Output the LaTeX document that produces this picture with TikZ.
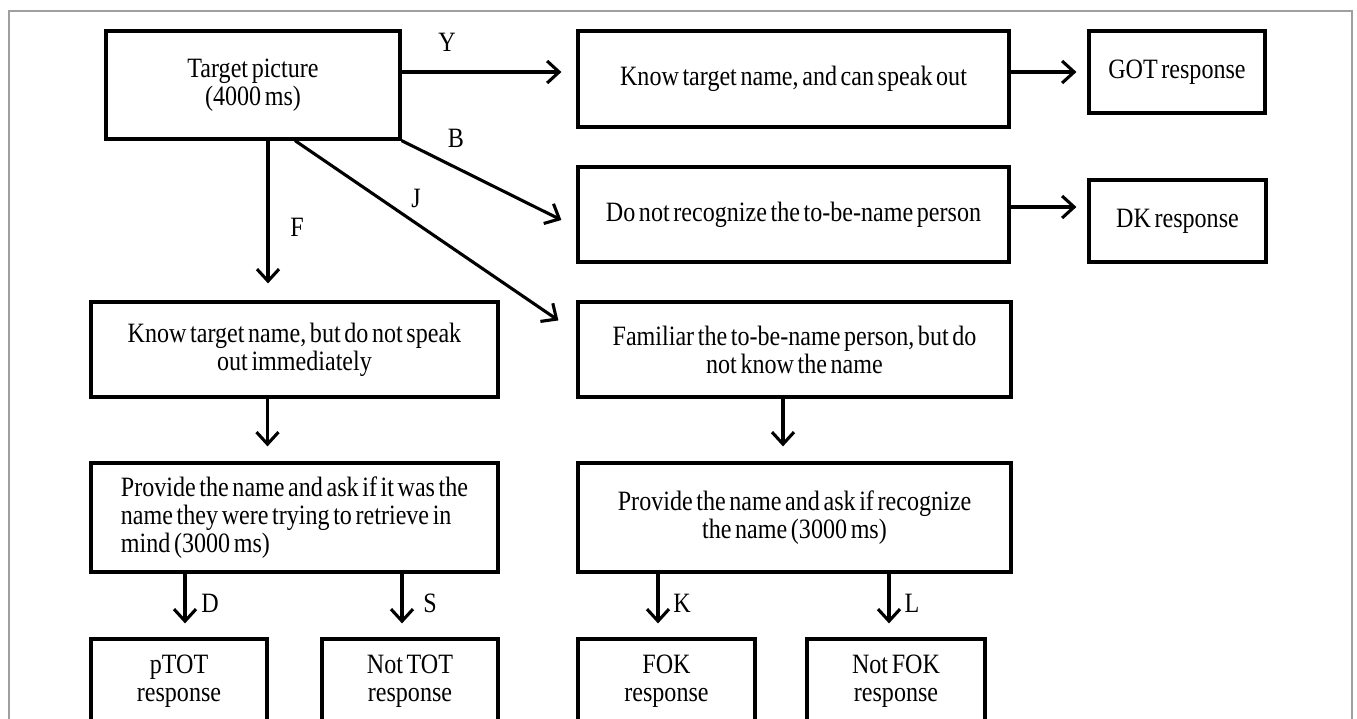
\documentclass[tikz,border=0pt]{standalone}
\usepackage{fontspec}
\setmainfont{Liberation Serif}[FakeStretch=0.86,WordSpace=0.6]
\usetikzlibrary{arrows.meta,calc,positioning}

\begin{document}
\begin{tikzpicture}[x=1pt,y=-1pt,
    box node/.style={draw,line width=3.2pt,inner sep=0pt,align=center,
      font=\fontsize{28}{28}\selectfont},
    arr/.style={line width=3.1pt,-{Straight Barb[length=12pt,width=22pt]}},
    lbl/.style={font=\fontsize{28}{28}\selectfont}]

  \useasboundingbox (0,0) rectangle (1357,718);
  \clip (0,0) rectangle (1357,718);

  % Frame
  \draw[gray!75, line width=1.4pt] (9,11) rectangle (1352,780);

  % Define vertices
  \node[box node, minimum width=294pt, minimum height=108pt] (target) at (253,85) {Target picture\\(4000 ms)};
  \node[box node, minimum width=431pt, minimum height=96pt] (speak) at (793.5,79) {Know target name, and can speak out};
  \node[box node, minimum width=176pt, minimum height=82pt] (got) at (1177,72) {GOT response};
  \node[box node, minimum width=431pt, minimum height=95pt] (norec) at (793.5,214.5) {Do not recognize the to-be-name person};
  \node[box node, minimum width=177pt, minimum height=82pt] (dk) at (1177.5,221) {DK response};
  \node[box node, minimum width=407pt, minimum height=95pt] (knowleft) at (294.5,349.5) {Know target name, but do not speak\\out immediately};
  \node[box node, minimum width=433pt, minimum height=95pt] (familiar) at (794.5,349.5) {Familiar the to-be-name person, but do\\not know the name};
  \node[box node, align=left, minimum width=407pt, minimum height=109pt] (provL) at (294.5,517.5) {Provide the name and ask if it was the\\name they were trying to retrieve in\\mind (3000 ms)};
  \node[box node, minimum width=433pt, minimum height=109pt] (provR) at (794.5,517.5) {Provide the name and ask if recognize\\the name (3000 ms)};
  \node[box node, minimum width=176pt, minimum height=84pt] (ptot) at (179,681) {pTOT\\response};
  \node[box node, minimum width=176pt, minimum height=84pt] (nottot) at (410,681) {Not TOT\\response};
  \node[box node, minimum width=177pt, minimum height=84pt] (fok) at (666.5,681) {FOK\\response};
  \node[box node, minimum width=178pt, minimum height=84pt] (notfok) at (896,681) {Not FOK\\response};

  % Draw edges
  \draw[arr, shorten >=15pt] (target.east |- got.west) -- (speak.west |- got.west)
    node[lbl, pos=0.26, yshift=30pt] (lY) {Y};
  \draw[arr, shorten >=11pt] (speak.east |- got.west) -- (got.west);
  \draw[arr] (target.south east) -- ($(norec.west)+(-15,5.5)$)
    node[lbl, pos=0.34, yshift=29pt] (lB) {B};
  \draw[arr, shorten >=11pt] ($(norec.east)+(0,-7.5)$) -- ($(dk.west)+(0,-14)$);
  \draw[arr] ($(target.south)+(42,0)$) -- ($(familiar.north west)+(-18,20)$)
    node[lbl, pos=0.46, yshift=25pt] (lJ) {J};
  \draw[arr, shorten >=17pt] ($(target.south)+(15,0)$) -- ($(knowleft.north)+(-26.5,0)$)
    node[lbl, pos=0.54, xshift=29pt] (lF) {F};
  \draw[arr, shorten >=15pt] ($(knowleft.south)+(-27,0)$) -- ($(provL.north)+(-27,0)$);
  \draw[arr, shorten >=15pt] ($(familiar.south)+(-11.5,0)$) -- ($(provR.north)+(-11.5,0)$);
  \draw[arr, shorten >=14pt] ($(provL.south)+(-109.5,0)$) -- ($(ptot.north)+(6,0)$)
    node[lbl, pos=0.47, xshift=25pt] (lD) {D};
  \draw[arr, shorten >=14pt] ($(provL.south)+(107.5,0)$) -- ($(nottot.north)+(-8,0)$)
    node[lbl, pos=0.47, xshift=28pt] (lS) {S};
  \draw[arr, shorten >=14pt] ($(provR.south)+(-136.5,0)$) -- ($(fok.north)+(-8.5,0)$)
    node[lbl, pos=0.47, xshift=24pt] (lK) {K};
  \draw[arr, shorten >=14pt] ($(provR.south)+(94.5,0)$) -- ($(notfok.north)+(-7,0)$)
    node[lbl, pos=0.47, xshift=23pt] (lL) {L};

\end{tikzpicture}
\end{document}
